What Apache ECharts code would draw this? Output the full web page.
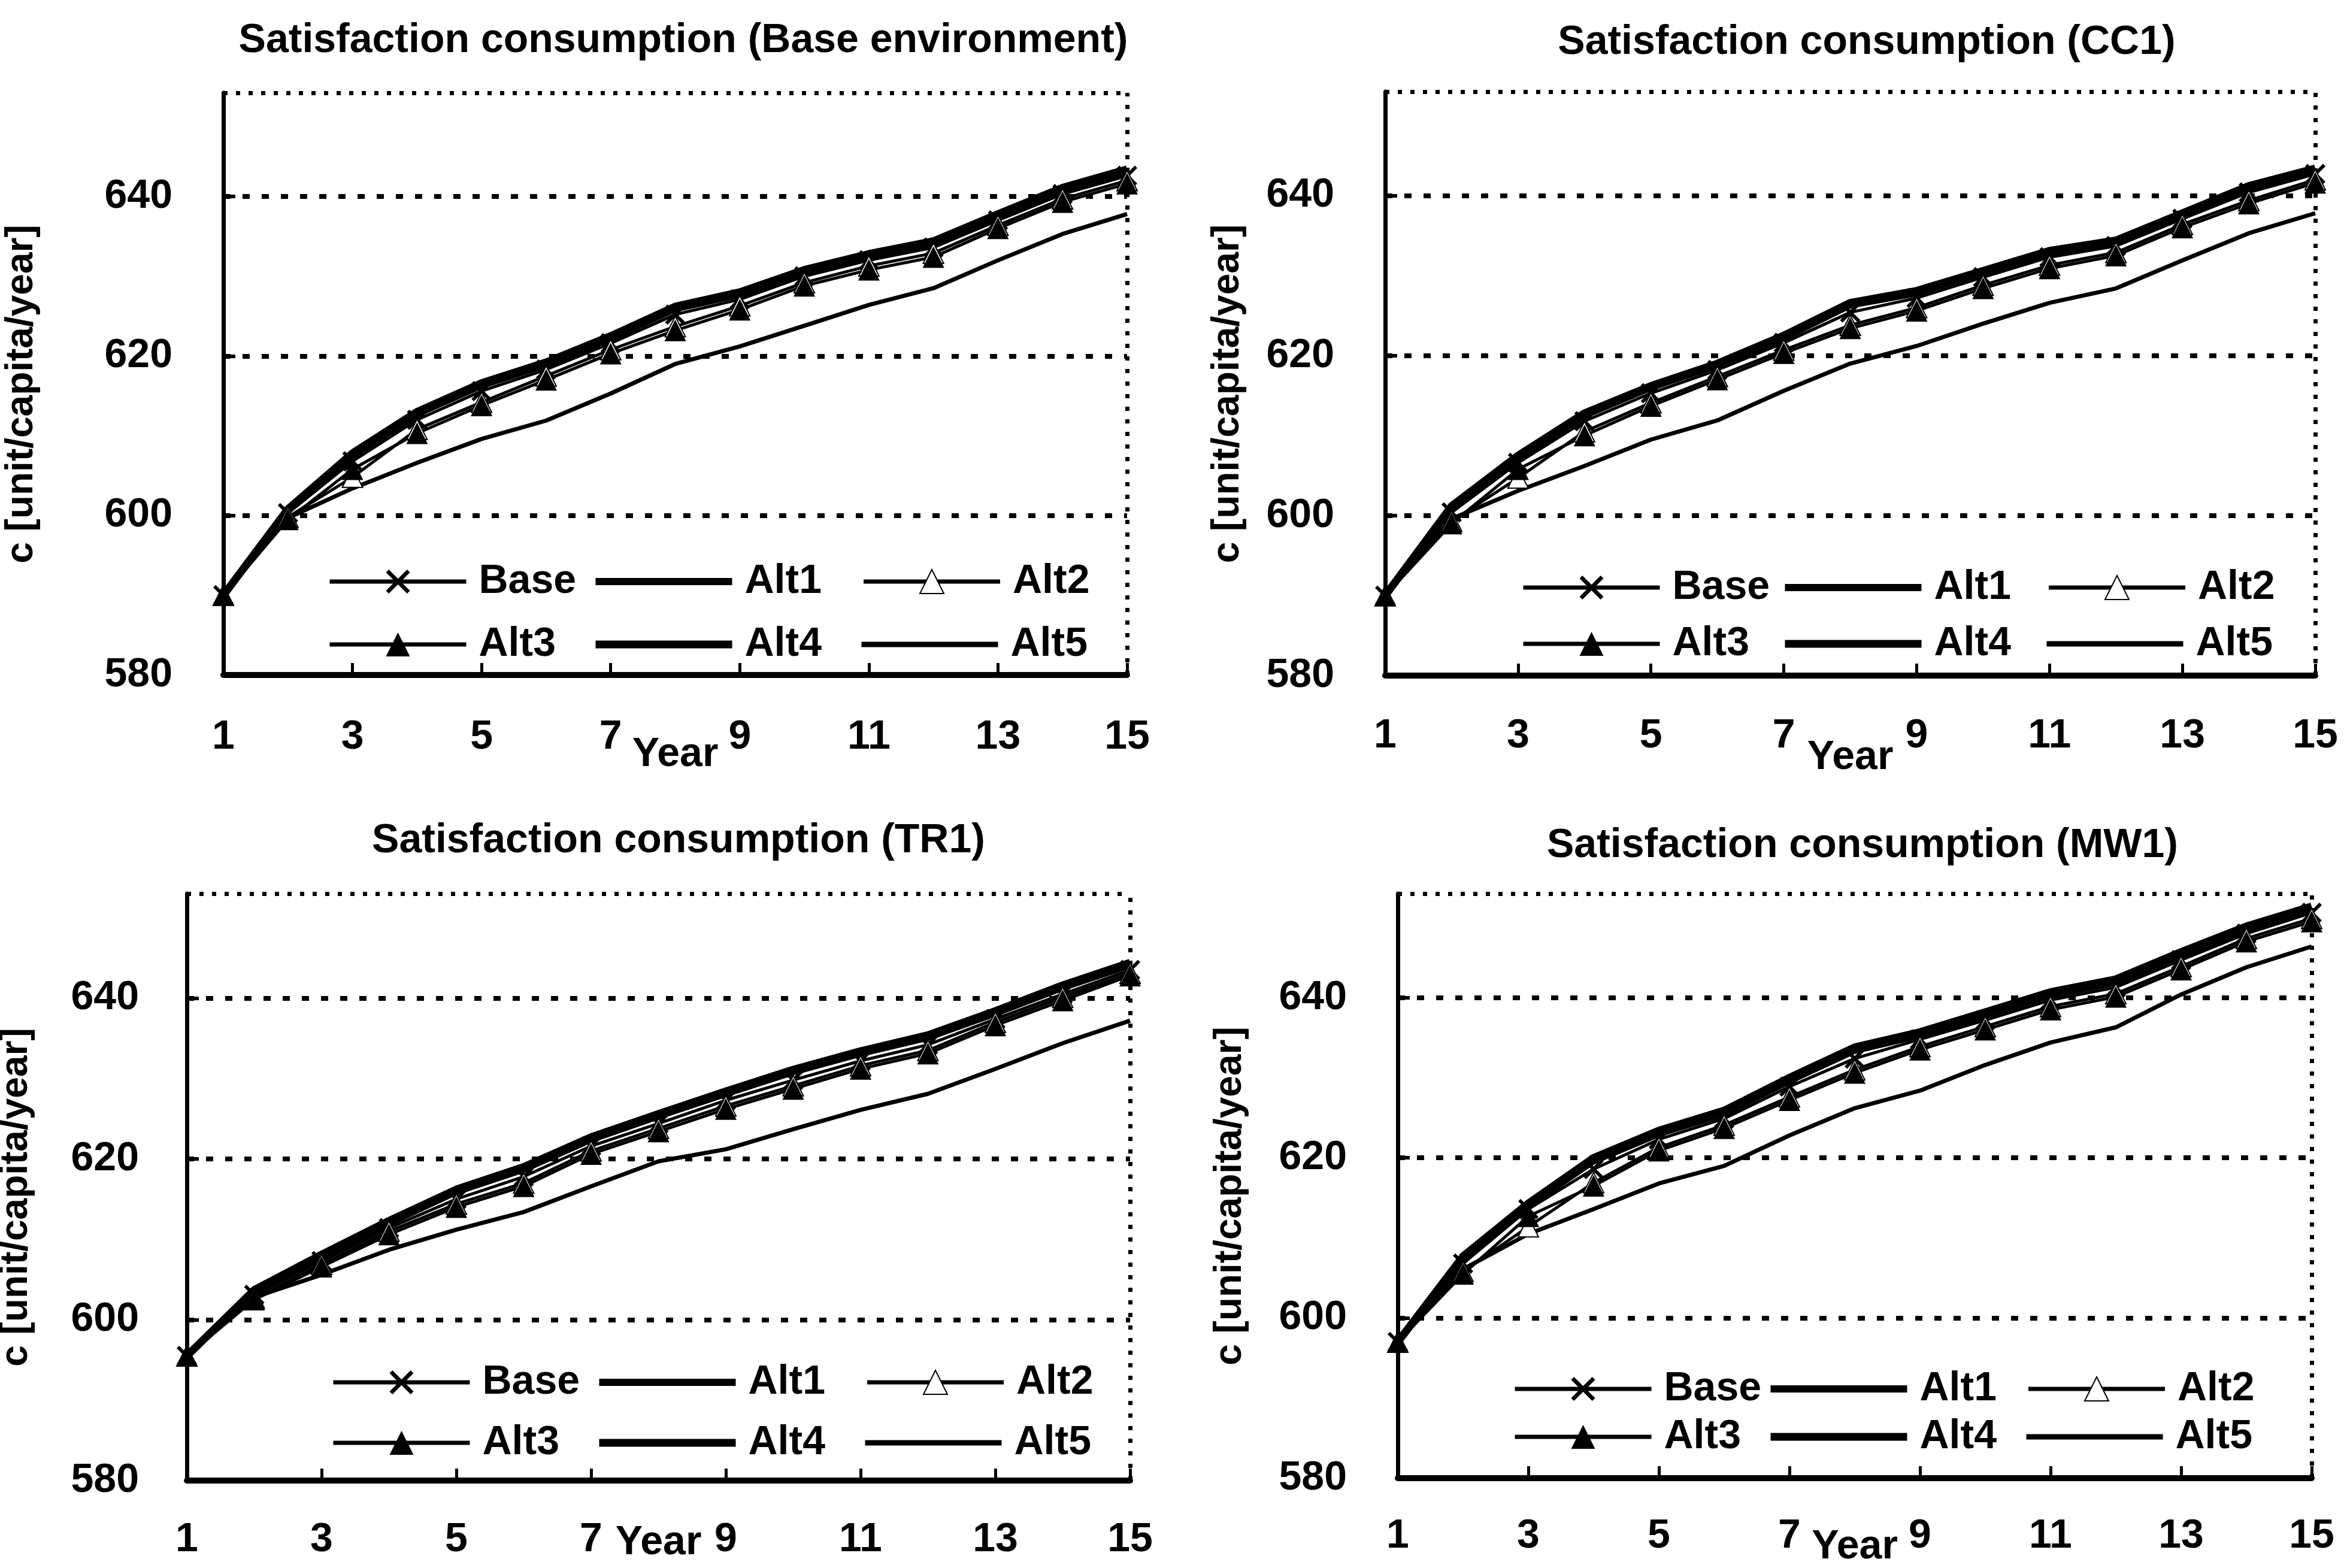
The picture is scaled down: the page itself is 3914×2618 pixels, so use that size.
<!DOCTYPE html>
<html><head><meta charset="utf-8">
<script src="https://cdn.jsdelivr.net/npm/echarts@6.0.0/dist/echarts.min.js"></script>
<style>html,body{margin:0;padding:0;background:#fff}#c{width:3914px;height:2618px}</style>
</head><body><div id="c"></div>
<script>
// ---------- data ----------
const years = [1,2,3,4,5,6,7,8,9,10,11,12,13,14,15];
const yTickValues = [580,600,620,640];
const yGridValues = [600,620,640];
const seriesNames = ['Base','Alt1','Alt2','Alt3','Alt4','Alt5'];
const legendRows = [['Base','Alt1','Alt2'], ['Alt3','Alt4','Alt5']];
const panelTitles = [
  'Satisfaction consumption (Base environment)',
  'Satisfaction consumption (CC1)',
  'Satisfaction consumption (TR1)',
  'Satisfaction consumption (MW1)'
];
const yAxisTitle = 'c [unit/capita/year]';
const xAxisTitle = 'Year';

// Panel 1: Base environment
const beBase = [590, 600.3, 606.8, 612.0, 615.6, 618.3, 621.6, 625.2, 627.1, 630.0, 632.0, 633.6, 637.0, 640.3, 642.6];
const beAlt1 = [590, 600.6, 607.5, 612.7, 616.3, 618.9, 622.2, 625.9, 627.7, 630.5, 632.5, 634.1, 637.5, 640.8, 643.1];
const beAlt2 = [590, 599.8, 604.8, 610.8, 614.2, 617.5, 620.8, 623.7, 626.3, 629.2, 631.3, 632.9, 636.4, 639.7, 642.0];
const beAlt3 = [590, 599.5, 605.8, 610.3, 613.8, 617.0, 620.3, 623.2, 625.8, 628.8, 630.8, 632.4, 636.0, 639.3, 641.6];
const beAlt4 = [590, 600.8, 607.8, 613.0, 616.6, 619.2, 622.5, 626.2, 628.0, 630.8, 632.8, 634.4, 637.8, 641.1, 643.4];
const beAlt5 = [590, 599.7, 603.4, 606.6, 609.6, 611.9, 615.3, 619.0, 621.2, 623.8, 626.4, 628.5, 632.0, 635.3, 637.8];

// Panel 2: CC1
const ccBase = [590, 600.4, 606.6, 611.8, 615.3, 618.2, 621.6, 625.4, 627.2, 629.8, 632.3, 633.7, 637.1, 640.4, 642.7];
const ccAlt1 = [590, 601.0, 607.2, 612.5, 616.0, 618.8, 622.2, 626.3, 627.8, 630.4, 632.8, 634.1, 637.5, 640.9, 643.1];
const ccAlt2 = [590, 599.3, 604.7, 610.5, 614.1, 617.4, 620.7, 623.8, 626.0, 628.8, 631.3, 632.9, 636.4, 639.4, 642.0];
const ccAlt3 = [590, 599.0, 605.8, 610.0, 613.7, 617.0, 620.3, 623.4, 625.6, 628.4, 630.9, 632.5, 636.0, 639.0, 641.6];
const ccAlt4 = [590, 601.2, 607.5, 612.8, 616.2, 619.0, 622.5, 626.6, 628.1, 630.6, 633.1, 634.4, 637.8, 641.2, 643.4];
const ccAlt5 = [590, 599.6, 603.1, 606.2, 609.5, 611.9, 615.6, 619.0, 621.2, 624.0, 626.6, 628.4, 631.9, 635.3, 637.8];

// Panel 3: TR1
const trBase = [595.5, 603.1, 607.3, 611.4, 615.0, 617.8, 621.6, 624.4, 627.3, 629.8, 632.2, 634.2, 637.4, 640.5, 643.5];
const trAlt1 = [595.5, 603.5, 607.8, 612.0, 615.9, 618.7, 622.4, 625.3, 628.1, 630.8, 633.1, 635.1, 638.1, 641.3, 644.1];
const trAlt2 = [595.5, 602.7, 606.9, 611.0, 614.4, 617.0, 621.0, 623.8, 626.6, 629.1, 631.6, 633.5, 637.0, 640.1, 643.1];
const trAlt3 = [595.5, 602.5, 606.6, 610.6, 614.0, 616.6, 620.6, 623.4, 626.2, 628.7, 631.2, 633.1, 636.6, 639.7, 642.8];
const trAlt4 = [595.5, 603.7, 608.1, 612.3, 616.2, 619.0, 622.7, 625.6, 628.4, 631.1, 633.4, 635.4, 638.4, 641.6, 644.4];
const trAlt5 = [595.5, 602.8, 605.6, 608.7, 611.2, 613.4, 616.6, 619.7, 621.2, 623.7, 626.1, 628.1, 631.2, 634.4, 637.2];

// Panel 4: MW1
const mwBase = [597, 606.8, 613.6, 618.6, 622.3, 624.9, 628.9, 632.4, 634.8, 637.2, 639.7, 641.3, 644.7, 648.0, 650.6];
const mwAlt1 = [597, 607.4, 614.0, 619.6, 623.0, 625.5, 629.6, 633.4, 635.3, 637.8, 640.3, 641.9, 645.3, 648.5, 651.0];
const mwAlt2 = [597, 605.8, 611.4, 616.9, 621.3, 624.1, 627.6, 631.0, 633.9, 636.4, 638.9, 640.5, 643.9, 647.4, 649.9];
const mwAlt3 = [597, 605.5, 612.7, 616.5, 620.9, 623.7, 627.2, 630.6, 633.5, 636.0, 638.5, 640.1, 643.5, 647.0, 649.5];
const mwAlt4 = [597, 607.7, 614.3, 620.0, 623.4, 625.9, 630.0, 633.8, 635.7, 638.2, 640.7, 642.3, 645.7, 648.9, 651.4];
const mwAlt5 = [597, 606.1, 610.5, 613.6, 616.8, 619.0, 622.8, 626.2, 628.4, 631.6, 634.4, 636.3, 640.4, 643.8, 646.4];

const panelData = [
  [beBase, beAlt1, beAlt2, beAlt3, beAlt4, beAlt5],
  [ccBase, ccAlt1, ccAlt2, ccAlt3, ccAlt4, ccAlt5],
  [trBase, trAlt1, trAlt2, trAlt3, trAlt4, trAlt5],
  [mwBase, mwAlt1, mwAlt2, mwAlt3, mwAlt4, mwAlt5]
];

// ---------- layout / style ----------
const FF = "'Liberation Sans Narrow','Arial Narrow','Liberation Sans',Arial,sans-serif";
const FS = 68;
const X_PATH = 'path://M0,1.2 L1.2,0 L5,3.8 L8.8,0 L10,1.2 L6.2,5 L10,8.8 L8.8,10 L5,6.2 L1.2,10 L0,8.8 L3.8,5 Z';
const LINE_ICON = w => 'path://M0,0 L228,0 L228,' + w + ' L0,' + w + ' Z';
const GRID_DOT = {color: '#000', width: 8, type: [12, 20], cap: 'butt'};
const BORDER_DOT = {color: '#000', width: 7, type: [7, 14], cap: 'butt'};

const grids = [
  {left: 373, top: 155, width: 1509, height: 972},
  {left: 2313, top: 153, width: 1553, height: 975},
  {left: 312, top: 1492, width: 1575, height: 980},
  {left: 2334, top: 1492, width: 1526, height: 976}
];
const titlePos = [[1136, 23], [3112, 26], [1128, 1359], [3105, 1367]];
const legendPos = [
  {left: 542, rows: [962, 1067], gap: 25},
  {left: 2535, rows: [972, 1066], gap: 18},
  {left: 548, rows: [2299, 2400], gap: 25},
  {left: 2521, rows: [2310, 2390], gap: 8}
];
const LEG_TW = 170;
const yNameGap = [302, 228, 250, 245];
const yLabelMargin = [85, 85, 80, 85];
const xLabelMargin = [64, 61, 59, 57];
const xNameGap = [93, 97, 64, 75];

const sStyle = {
  Base: {symbol: X_PATH, symbolSize: 34, width: 5},
  Alt1: {symbol: 'none', width: 11, icon: 12},
  Alt2: {symbol: 'emptyTriangle', symbolSize: 34, width: 5},
  Alt3: {symbol: 'triangle', symbolSize: 36, width: 5},
  Alt4: {symbol: 'none', width: 13, icon: 13},
  Alt5: {symbol: 'none', width: 7, icon: 9}
};

const option = {
  backgroundColor: '#fff',
  animation: false,
  title: [], grid: [], xAxis: [], yAxis: [], legend: [], series: []
};

const txt = (size, extra) => Object.assign({fontFamily: FF, fontSize: size, fontWeight: 'bold', color: '#000'}, extra || {});

for (let p = 0; p < 4; p++) {
  const g = grids[p];
  option.grid.push(Object.assign({outerBoundsMode: 'none', containLabel: false}, g));
  option.title.push({
    text: panelTitles[p], left: titlePos[p][0], top: titlePos[p][1], textAlign: 'center',
    textStyle: txt(FS, {lineHeight: 80})
  });
  // main bottom x axis
  option.xAxis.push({
    type: 'value', gridIndex: p, min: 1, max: 15, interval: 2, position: 'bottom',
    name: xAxisTitle, nameLocation: 'middle', nameGap: xNameGap[p], nameMoveOverlap: false,
    nameTextStyle: txt(FS, {lineHeight: 80}),
    axisLine: {show: true, onZero: false, lineStyle: {color: '#000', width: 10}},
    axisTick: {show: true, inside: true, length: 20, lineStyle: {color: '#000', width: 5}},
    axisLabel: Object.assign({margin: xLabelMargin[p]}, txt(FS, {lineHeight: 80})),
    splitLine: {show: false}
  });
  // top dotted border
  option.xAxis.push({
    type: 'value', gridIndex: p, min: 1, max: 15, position: 'top',
    axisLine: {show: true, onZero: false, lineStyle: BORDER_DOT},
    axisTick: {show: false}, axisLabel: {show: false}, splitLine: {show: false}
  });
  // main left y axis
  option.yAxis.push({
    type: 'value', gridIndex: p, min: 580, max: 653, interval: 20, position: 'left',
    name: yAxisTitle, nameLocation: 'middle', nameGap: yNameGap[p], nameMoveOverlap: false,
    nameTextStyle: txt(64, {lineHeight: 70, padding: [0, 34, 0, 0]}),
    axisLine: {show: true, onZero: false, lineStyle: {color: '#000', width: 7}},
    axisTick: {show: true, inside: true, length: 20, customValues: yGridValues, lineStyle: {color: '#000', width: 6}},
    axisLabel: Object.assign({margin: yLabelMargin[p], customValues: yTickValues}, txt(FS)),
    splitLine: {show: true, lineStyle: GRID_DOT}
  });
  // right dotted border
  option.yAxis.push({
    type: 'value', gridIndex: p, min: 580, max: 653, position: 'right',
    axisLine: {show: true, onZero: false, lineStyle: BORDER_DOT},
    axisTick: {show: false}, axisLabel: {show: false}, splitLine: {show: false}
  });
  const lp = legendPos[p];
  legendRows.forEach((row, r) => {
    option.legend.push({
      left: lp.left, top: lp.rows[r] - 30, orient: 'horizontal',
      itemWidth: 228, itemHeight: 50, itemGap: lp.gap,
      selectedMode: false,
      lineStyle: {width: 7},
      textStyle: txt(FS, {lineHeight: 60, width: LEG_TW, padding: [0, 0, 0, 16], overflow: 'none'}),
      data: row.map(n => sStyle[n].icon ? {name: n, icon: LINE_ICON(sStyle[n].icon)} : {name: n})
    });
  });
  seriesNames.forEach((n, k) => {
    const st = sStyle[n];
    option.series.push({
      name: n, type: 'line', xAxisIndex: 2 * p, yAxisIndex: 2 * p,
      data: years.map((yr, i) => [yr, panelData[p][k][i]]),
      symbol: st.symbol, symbolSize: st.symbolSize || 0, showSymbol: st.symbol !== 'none',
      lineStyle: {color: '#000', width: st.width, join: 'round'},
      itemStyle: {color: '#000', borderColor: '#000', borderWidth: n === 'Alt2' ? 4 : 0},
      z: n === 'Alt5' ? 2 : 3
    });
  });
}

const chart = echarts.init(document.getElementById('c'), null, {renderer: 'canvas', width: 3914, height: 2618});
chart.setOption(option);
</script>
</body></html>
